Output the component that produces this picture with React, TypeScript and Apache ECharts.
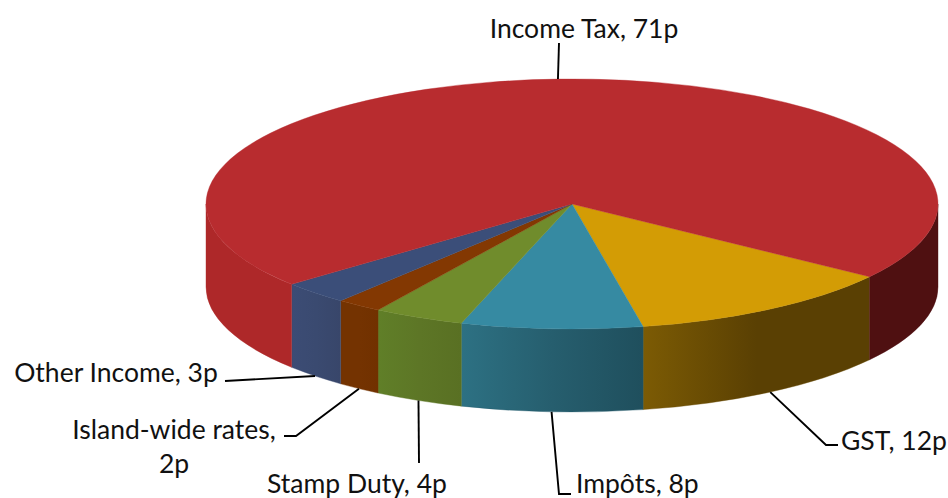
import React, { useEffect, useRef } from "react";
import * as echarts from "echarts";

const names = ["GST", "Impôts", "Stamp Duty", "Island-wide rates", "Other Income", "Income Tax"];
const values = [12, 8, 4, 2, 3, 71];
const topColors = ["#d39c05", "#368aa2", "#708c2c", "#833802", "#3b4e79", "#b82c2f"];
const wallStops: string[][][] = [
  [["#7c5b04", "#5a4003", "#5a4003"]],
  [["#2d7183", "#265e6e", "#1f4f5d"]],
  [["#607f28", "#5d7626", "#597023"]],
  [["#743301", "#743301", "#713100"]],
  [["#3c4c75", "#3a4a70", "#38466a"]],
  [["#ae2829", "#ae2829", "#ae2829"], ["#4f1011", "#4f1011", "#4f1011"]],
];
const wallEdges = ["#6a4d04", "#265e6e", "#5d7626", "#743301", "#3a4a70", "#ae2829"];
const labelLines = ["GST, 12p", "Impôts, 8p", "Stamp Duty, 4p", "Island-wide rates,\n2p", "Other Income, 3p", "Income Tax, 71p"];

// layout (styling) only
const CX = 572, CY = 204, RX = 366, RY = 125, DEPTH = 83, START = 35.6;
const labelLayout: any[] = [
  { x: 841, y: 440, align: "left", lineHeight: 26, knees: [[826, 445], [838, 445]] },
  { x: 576, y: 483, align: "left", lineHeight: 26, knees: [[559, 494], [571, 494]] },
  { x: 357, y: 483, align: "center", lineHeight: 26, knees: [[419, 463]] },
  { x: 174, y: 446, align: "center", lineHeight: 34, knees: [[296, 436], [284, 436]] },
  { x: 116, y: 372, align: "center", lineHeight: 26, knees: [[225, 381]] },
  { x: 584, y: 28, align: "center", lineHeight: 26, knees: [[559, 43]] },
];
const FONT = '26.5px Lato, "Liberation Sans", sans-serif';

const total = values.reduce((a, b) => a + b, 0);
function range(i: number): [number, number] {
  let a = START;
  for (let k = 0; k < i; k++) a += (values[k] / total) * 360;
  return [a, a + (values[i] / total) * 360];
}
function pt(deg: number, dy = 0): [number, number] {
  const r = (deg * Math.PI) / 180;
  return [CX + RX * Math.cos(r), CY + RY * Math.sin(r) + dy];
}
function gradient(stops: string[]) {
  return new echarts.graphic.LinearGradient(0, 0, 1, 0, stops.map((color, i) => ({
    offset: i / (stops.length - 1),
    color,
  })));
}
function topItem(_p: any, api: any) {
  const i = _p.dataIndex;
  const [a0, a1] = range(i);
  const p0 = pt(a0), p1 = pt(a1);
  const large = a1 - a0 > 180 ? 1 : 0;
  return {
    type: "path",
    shape: { pathData: `M${CX} ${CY}L${p0[0]} ${p0[1]}A${RX} ${RY} 0 ${large} 1 ${p1[0]} ${p1[1]}Z` },
    style: { fill: topColors[i], stroke: topColors[i], lineWidth: 0.4 },
    silent: true,
    info: api.value(0),
  };
}
function wallItem(p: any) {
  const i = p.dataIndex;
  const [a0, a1] = range(i);
  const pieces: [number, number][] = [];
  for (const [lo, hi] of [[0, 180], [360, 540]]) {
    const s = Math.max(a0, lo), e = Math.min(a1, hi);
    if (e > s) pieces.push([s, e]);
  }
  return {
    type: "group",
    children: pieces.map(([s, e], k) => {
      const t0 = pt(s), t1 = pt(e), b0 = pt(s, DEPTH), b1 = pt(e, DEPTH);
      const stops = wallStops[i][k % wallStops[i].length];
      return {
        type: "path",
        shape: {
          pathData: `M${t0[0]} ${t0[1]}A${RX} ${RY} 0 0 1 ${t1[0]} ${t1[1]}L${b1[0]} ${b1[1]}A${RX} ${RY} 0 0 0 ${b0[0]} ${b0[1]}Z`,
        },
        style: { fill: gradient(stops), stroke: k === 1 ? stops[0] : wallEdges[i], lineWidth: 0.4 },
        silent: true,
      };
    }),
  };
}
function labelItem(p: any) {
  const i = p.dataIndex;
  const [a0, a1] = range(i);
  const mid = (a0 + a1) / 2;
  const front = Math.sin((mid * Math.PI) / 180) > 0;
  const anchor = pt(mid, front ? DEPTH : 0);
  const lay = labelLayout[i];
  return {
    type: "group",
    children: [
      {
        type: "polyline",
        shape: { points: [anchor, ...lay.knees] },
        style: { stroke: "#000", lineWidth: 1.9, fill: "none" },
        silent: true,
      },
      {
        type: "text",
        style: {
          text: labelLines[i],
          x: lay.x,
          y: lay.y,
          font: FONT,
          fill: "#111",
          align: lay.align,
          verticalAlign: "middle",
          lineHeight: lay.lineHeight,
        },
        silent: true,
      },
    ],
  };
}

export default function App() {
  const ref = useRef<HTMLDivElement>(null);
  useEffect(() => {
    const chart = echarts.init(ref.current!, null, { renderer: "svg" });
    const data = values.map((v, i) => ({ name: names[i], value: [v] }));
    chart.setOption({
      animation: false,
      backgroundColor: "#fff",
      series: [
        { type: "custom", coordinateSystem: "none", renderItem: wallItem, data, z: 1, silent: true },
        { type: "custom", coordinateSystem: "none", renderItem: topItem, data, z: 2, silent: true },
        { type: "custom", coordinateSystem: "none", renderItem: labelItem, data, z: 3, silent: true },
      ],
    });
    return () => chart.dispose();
  }, []);
  return <div ref={ref} style={{ position: "fixed", left: 0, top: 0, width: 948, height: 498 }} />;
}
